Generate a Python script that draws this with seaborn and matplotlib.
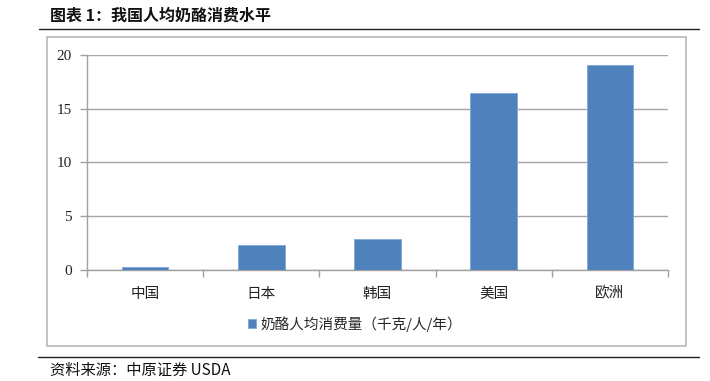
import matplotlib
matplotlib.use("Agg")
import matplotlib.pyplot as plt
import seaborn as sns
import pandas as pd
from matplotlib.patches import Rectangle
from matplotlib.lines import Line2D

categories = ["中国", "日本", "韩国", "美国", "欧洲"]
values = [0.25, 2.3, 2.9, 16.4, 19.0]
series_name = "奶酪人均消费量（千克/人/年）"
title = "图表 1：我国人均奶酪消费水平"
source = "资料来源：中原证券 USDA"
yticks = [0, 5, 10, 15, 20]

sns.set_style("white")
plt.rcParams["font.family"] = ["Liberation Serif", "Noto Sans CJK SC", "DejaVu Sans"]

W, H = 710, 381
fig = plt.figure(figsize=(W / 100, H / 100), dpi=100)

def fx(px):
    return px / W

def fy(py):
    return 1 - py / H

ax = fig.add_axes([fx(87), fy(270), fx(668) - fx(87), fy(54.7) - fy(270)])

df = pd.DataFrame({"cat": categories, "val": values})
sns.barplot(data=df, x="cat", y="val", ax=ax, color="#4f81bd", width=0.4,
            saturation=1, label=series_name, edgecolor="#7ea6d6", linewidth=0.6,
            zorder=3)

ax.set_xlim(-0.5, len(categories) - 0.5)
ax.set_ylim(0, 20)
ax.set_yticks(yticks)
ax.set_xlabel("")
ax.set_ylabel("")
ax.yaxis.grid(True, color="#a6a6a6", linewidth=1.0, zorder=0)
ax.set_axisbelow(True)

for s in ["top", "right"]:
    ax.spines[s].set_visible(False)
for s in ["left", "bottom"]:
    ax.spines[s].set_color("#a0a0a0")
    ax.spines[s].set_linewidth(1.0)

ax.tick_params(axis="y", length=5, width=1, color="#a0a0a0", labelsize=11,
               labelcolor="#222222", pad=6, left=True)
ax.tick_params(axis="x", which="major", length=0, labelsize=10.5, labelcolor="#222222", pad=12)
ax.set_xticks([i - 0.5 for i in range(len(categories) + 1)], minor=True)
ax.tick_params(axis="x", which="minor", length=5, width=1, color="#a0a0a0", bottom=True)
for lab in ax.get_xticklabels():
    lab.set_family(["Noto Sans CJK SC", "DejaVu Sans"])

leg = ax.legend(loc="center", bbox_to_anchor=(0.5, fy(324)), bbox_transform=fig.transFigure,
                frameon=False, handlelength=0.6, handleheight=0.6, handletextpad=0.3,
                prop={"family": ["Noto Sans CJK SC", "DejaVu Sans"], "size": 10.5})

# outer chart box
fig.add_artist(Rectangle((fx(47), fy(346)), fx(686) - fx(47), fy(37) - fy(346),
                         transform=fig.transFigure, fill=False, edgecolor="#b8b8b8",
                         linewidth=1.2))
# top and bottom rules
fig.add_artist(Line2D([fx(39), fx(699)], [fy(29.3), fy(29.3)], transform=fig.transFigure,
                      color="#222222", linewidth=1.0))
fig.add_artist(Line2D([fx(38), fx(699)], [fy(357), fy(357)], transform=fig.transFigure,
                      color="#222222", linewidth=1.0))

fig.text(fx(50), fy(16), title, ha="left", va="center", fontsize=11.5, fontweight="bold",
         family=["Noto Sans CJK SC", "DejaVu Sans"], color="#111111")
fig.text(fx(50), fy(370), source, ha="left", va="center", fontsize=11,
         family=["Noto Sans CJK SC", "DejaVu Sans"], color="#111111")

fig.savefig("out.png", dpi=100)
